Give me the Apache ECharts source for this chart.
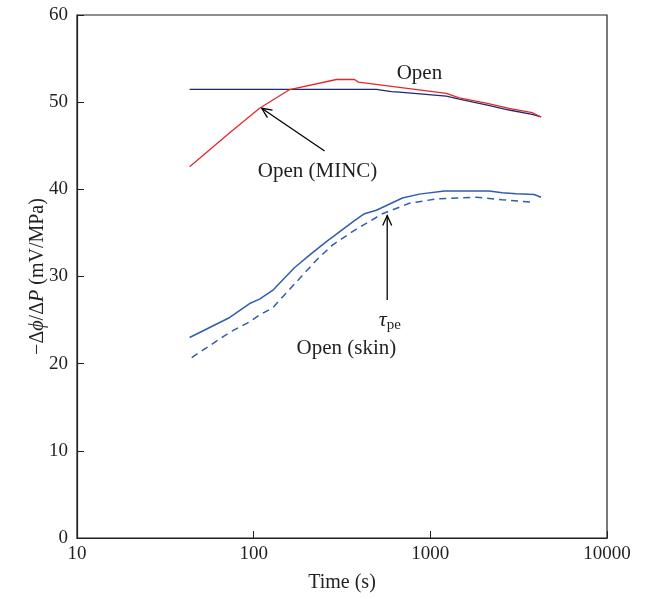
<!DOCTYPE html>
<html>
<head>
<meta charset="utf-8">
<script src="https://cdn.jsdelivr.net/npm/echarts@6/dist/echarts.min.js"></script>
<style>html,body{margin:0;padding:0;background:#fff}#c{width:646px;height:599px}</style>
</head>
<body>
<div id="c"></div>
<script>
// Open (MINC) – red
const mincTime = [43.4, 73.2, 108, 160, 294, 372, 392, 668, 1231, 1458, 2072, 2793, 3767, 4236];
const mincVal  = [42.6, 46.5, 49.3, 51.45, 52.6, 52.6, 52.3, 51.7, 51.0, 50.5, 49.9, 49.3, 48.8, 48.3];
// Open – dark navy
const openTime = [43.4, 495, 602, 668, 1231, 1458, 2072, 2793, 3767, 4236];
const openVal  = [51.46, 51.46, 51.2, 51.15, 50.7, 50.35, 49.7, 49.1, 48.6, 48.3];
// Lower solid blue
const lowTime = [43.4, 73.2, 94.9, 108, 128, 170, 207, 258, 372, 424, 495, 695, 867, 1200, 2154, 2552, 3061, 3869, 4236];
const lowVal  = [23.0, 25.3, 26.9, 27.4, 28.4, 31.0, 32.45, 34.0, 36.4, 37.2, 37.6, 39.0, 39.45, 39.8, 39.8, 39.6, 39.5, 39.4, 39.1];
// Open (skin) – dashed blue
const skinTime = [44.6, 73.2, 94.9, 108, 128, 175, 207, 227, 279, 372, 536, 761, 1081, 1231, 1819, 2552, 3869];
const skinVal  = [20.7, 23.6, 24.8, 25.6, 26.4, 29.4, 31.0, 31.9, 33.6, 35.3, 37.2, 38.4, 38.9, 38.95, 39.1, 38.8, 38.5];
// axis ticks
const yTicks = [0, 10, 20, 30, 40, 50, 60];
const xTicks = [10, 100, 1000, 10000];

const zip = (a, b) => a.map((t, i) => [t, b[i]]);
const FONT = '"Liberation Serif", "DejaVu Serif", serif';
const TXT = '#231f20';

const chart = echarts.init(document.getElementById('c'));
chart.setOption({
  animation: false,
  backgroundColor: '#fff',
  grid: { left: 77, top: 15, right: 39, bottom: 61, show: true, borderColor: '#231f20', borderWidth: 1.2, backgroundColor: 'transparent' },
  xAxis: {
    type: 'log', logBase: 10, min: xTicks[0], max: xTicks[xTicks.length - 1],
    name: 'Time (s)', nameLocation: 'middle', nameGap: 35,
    nameTextStyle: { fontFamily: FONT, fontSize: 20, color: TXT },
    axisLine: { lineStyle: { color: '#231f20', width: 1.2 } },
    axisTick: { inside: true, length: 7, lineStyle: { color: '#231f20' } },
    minorTick: { show: false },
    splitLine: { show: false },
    axisLabel: { fontFamily: FONT, fontSize: 19, color: TXT, margin: 7, formatter: v => String(Math.round(v)) }
  },
  yAxis: {
    type: 'value', min: yTicks[0], max: yTicks[yTicks.length - 1], interval: 10,
    name: '{a|\u2212\u0394}{i|\u03d5}{a|/\u0394}{i|P}{a| (mV/MPa)}', nameLocation: 'middle', nameGap: 29,
    nameMoveOverlap: false,
    nameTextStyle: {
      fontFamily: FONT, fontSize: 20, color: TXT,
      rich: {
        a: { fontFamily: FONT, fontSize: 20, color: TXT },
        i: { fontFamily: FONT, fontSize: 20, color: TXT, fontStyle: 'italic' }
      }
    },
    axisLine: { show: true, lineStyle: { color: '#231f20', width: 1.2 } },
    axisTick: { show: true, inside: true, length: 7, lineStyle: { color: '#231f20' } },
    splitLine: { show: false },
    axisLabel: { fontFamily: FONT, fontSize: 19, color: TXT, margin: 9 }
  },
  series: [
    { name: 'Open', type: 'line', data: zip(openTime, openVal), symbol: 'none', lineStyle: { color: '#1d2a6b', width: 1.3 } },
    { name: 'Open (MINC)', type: 'line', data: zip(mincTime, mincVal), symbol: 'none', lineStyle: { color: '#e8262b', width: 1.3 } },
    { name: 'Low', type: 'line', data: zip(lowTime, lowVal), symbol: 'none', lineStyle: { color: '#2f5eac', width: 1.5 } },
    { name: 'Open (skin)', type: 'line', data: zip(skinTime, skinVal), symbol: 'none', lineStyle: { color: '#2f5eac', width: 1.5, type: [7, 5] } }
  ]
});

// annotations in data coordinates
const px = p => chart.convertToPixel({ gridIndex: 0 }, p);
function arrow(from, to) {
  const a = px(from), b = px(to);
  const ang = Math.atan2(a[1] - b[1], a[0] - b[0]);
  const L = 11, s = 0.42;
  const h1 = [b[0] + L * Math.cos(ang + s), b[1] + L * Math.sin(ang + s)];
  const h2 = [b[0] + L * Math.cos(ang - s), b[1] + L * Math.sin(ang - s)];
  return [
    { type: 'line', shape: { x1: a[0], y1: a[1], x2: b[0], y2: b[1] }, style: { stroke: '#000', lineWidth: 1.3 } },
    { type: 'polyline', shape: { points: [h1, b, h2] }, style: { stroke: '#000', lineWidth: 1.3, fill: null } }
  ];
}
function label(p, text, rich) {
  const q = px(p);
  return { type: 'text', x: q[0], y: q[1], style: { text, fontFamily: FONT, fontSize: 21, fill: TXT, align: 'center', verticalAlign: 'middle', rich } };
}
const g = [];
g.push(...arrow([252, 44.4], [111, 49.3]));
g.push(...arrow([570, 27.3], [570, 37.0]));
g.push(label([867, 53.3], 'Open'));
g.push(label([230, 42.0], 'Open (MINC)'));
g.push(label([335, 21.7], 'Open (skin)'));
g.push(label([590, 25.0], '{t|\u03c4}{s|pe}', {
  t: { fontFamily: FONT, fontSize: 22, fill: TXT, fontStyle: 'italic' },
  s: { fontFamily: FONT, fontSize: 15, fill: TXT, padding: [9, 0, 0, 0] }
}));
chart.setOption({ graphic: g });
</script>
</body>
</html>
